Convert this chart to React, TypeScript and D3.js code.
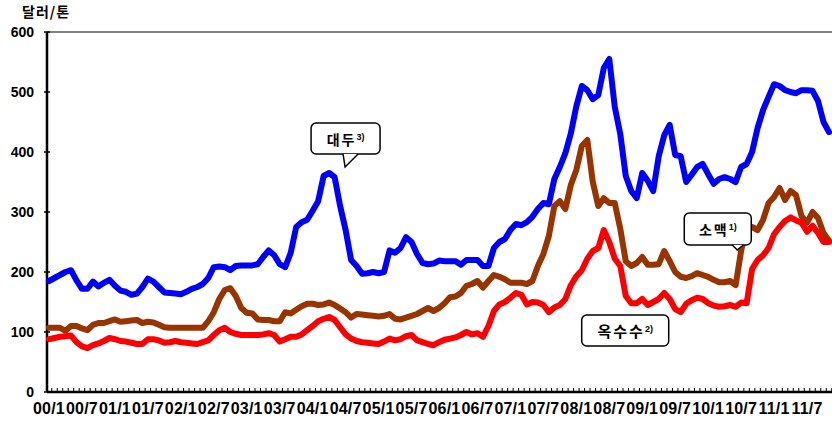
import React, { useRef, useEffect } from 'react';
import * as d3 from 'd3';

// monthly prices, 2000/1 .. 2011/11 (US$/ton)
const soybean = [
  185, 190, 195, 200, 203, 186, 172, 172, 184, 176,
  182, 187, 177, 169, 167, 162, 164, 175, 189, 184,
  175, 166, 165, 164, 163, 167, 172, 175, 180, 190,
  208, 209, 208, 203, 210, 211, 211, 211, 213, 225,
  236, 228, 213, 208, 232, 275, 283, 287, 302, 318,
  360, 365, 358, 310, 270, 220, 210, 197, 198, 200,
  198, 200, 236, 232, 240, 258, 250, 230, 215, 213,
  214, 219, 218, 218, 218, 212, 220, 220, 220, 210,
  210, 240, 250, 255, 270, 280, 278, 283, 292, 305,
  315, 313, 355, 375, 398, 431, 476, 510, 503, 488,
  495, 540, 555, 475, 430, 360, 335, 323, 365, 352,
  335, 393, 428, 445, 395, 393, 350, 362, 375, 380,
  363, 347, 355, 358, 355, 350, 375, 380, 400, 440,
  470, 492, 513, 510, 503, 500, 498, 503, 503, 502,
  485, 450, 433
];

const wheat = [
  107, 107, 107, 102, 110, 110, 106, 103, 112, 115,
  115, 118, 121, 117, 118, 119, 120, 115, 117, 116,
  112, 108, 107, 107, 107, 107, 107, 107, 107, 118,
  133, 155, 170, 173, 160, 140, 132, 131, 121, 120,
  120, 118, 118, 133, 131, 137, 143, 147, 147, 145,
  146, 149, 145, 139, 133, 124, 130, 129, 128, 127,
  126, 127, 130, 122, 121, 124, 127, 130, 135, 140,
  135, 140, 148, 158, 159, 165, 177, 180, 185, 174,
  185, 195, 192, 188, 182, 182, 182, 180, 185, 210,
  230, 260, 310, 318, 305, 345, 370, 410, 420, 350,
  310, 323, 315, 315, 272, 218, 210, 215, 225, 212,
  212, 213, 235, 218, 200, 192, 190, 193, 198, 195,
  192, 187, 183, 183, 185, 178, 235, 278, 275, 270,
  287, 315, 325, 340, 320, 335, 328, 293, 282, 300,
  290, 265, 252
];

const corn = [
  88, 90, 92, 93, 94, 83, 76, 73, 78, 81,
  85, 90, 88, 85, 84, 82, 80, 80, 88, 88,
  86, 82, 83, 85, 83, 82, 81, 80, 83, 86,
  95, 103, 107, 100, 97, 95, 95, 95, 95, 96,
  98, 95, 84, 88, 92, 92, 96, 103, 110, 118,
  122, 125, 120, 108, 96, 89, 85, 83, 82, 81,
  80, 84, 89, 86, 88, 93, 95, 86, 83, 80,
  78, 83, 87, 89, 91, 95, 100, 96, 98, 92,
  110, 135, 146, 150, 157, 165, 162, 146, 150, 149,
  145, 133, 141, 145, 155, 178, 193, 203, 222, 235,
  240, 270, 250, 222, 210, 160, 148, 148, 155, 145,
  150, 155, 165, 155, 138, 133, 147, 153, 157, 155,
  148, 144, 142, 143, 145, 142, 149, 148, 205, 220,
  228, 240, 263, 275, 285, 291, 286, 282, 267, 277,
  265, 250, 250
];

const xTickLabels = [
  '00/1', '00/7', '01/1', '01/7', '02/1', '02/7', '03/1', '03/7',
  '04/1', '04/7', '05/1', '05/7', '06/1', '06/7', '07/1', '07/7',
  '08/1', '08/7', '09/1', '09/7', '10/1', '10/7', '11/1', '11/7'
];
const yTicks = [0, 100, 200, 300, 400, 500, 600];

const seriesList = [
  { name: '소맥', values: wheat, color: '#993300' },
  { name: '옥수수', values: corn, color: '#ff0000' },
  { name: '대두', values: soybean, color: '#0000ff' }
];

const W = 832;
const H = 425;
const LATIN = '"Liberation Sans", Arial, sans-serif';
const KOREAN = '"Noto Sans CJK KR", "Noto Sans", sans-serif';

const App = () => {
  const svgRef = useRef(null);

  useEffect(() => {
    const svg = d3.select(svgRef.current);
    svg.selectAll('*').remove();

    const x = d3.scaleLinear().domain([0, soybean.length - 1]).range([49, 829]);
    const y = d3.scaleLinear().domain([0, 600]).range([392, 32]);
    const step = x(1) - x(0);
    const left = 47;

    // top gridline
    svg.append('line')
      .attr('x1', left).attr('x2', W)
      .attr('y1', y(600)).attr('y2', y(600))
      .attr('stroke', '#808080').attr('stroke-width', 2);

    // y axis
    svg.append('line')
      .attr('x1', left).attr('x2', left)
      .attr('y1', y(600)).attr('y2', y(0))
      .attr('stroke', '#000').attr('stroke-width', 2.5);

    svg.selectAll('.ytick')
      .data(yTicks)
      .enter()
      .append('line')
      .attr('x1', left - 3).attr('x2', left + 3)
      .attr('y1', d => y(d)).attr('y2', d => y(d))
      .attr('stroke', '#000').attr('stroke-width', 1.5);

    svg.selectAll('.ylabel')
      .data(yTicks)
      .enter()
      .append('text')
      .attr('x', 34)
      .attr('y', d => y(d))
      .attr('dy', '0.36em')
      .attr('text-anchor', 'end')
      .style('font-family', LATIN)
      .style('font-size', '14px')
      .style('font-weight', 'bold')
      .text(d => d);

    svg.append('text')
      .attr('x', 22).attr('y', 17)
      .style('font-family', KOREAN)
      .style('font-size', '14px')
      .style('font-weight', 'bold')
      .style('letter-spacing', '1px')
      .text('달러/톤');

    // x axis
    svg.append('line')
      .attr('x1', left).attr('x2', W)
      .attr('y1', y(0)).attr('y2', y(0))
      .attr('stroke', '#000').attr('stroke-width', 2.5);

    svg.selectAll('.xtick')
      .data(d3.range(soybean.length))
      .enter()
      .append('line')
      .attr('x1', d => x(d) + step / 2).attr('x2', d => x(d) + step / 2)
      .attr('y1', y(0) - 4).attr('y2', y(0))
      .attr('stroke', '#000').attr('stroke-width', 1);

    svg.selectAll('.xlabel')
      .data(xTickLabels)
      .enter()
      .append('text')
      .attr('x', (d, i) => x(i * 6))
      .attr('y', 414)
      .attr('text-anchor', 'middle')
      .style('font-family', LATIN)
      .style('font-size', '16px')
      .style('font-weight', 'bold')
      .style('letter-spacing', '0.2px')
      .text(d => d);

    // lines
    const line = d3.line()
      .x((d, i) => x(i))
      .y(d => y(d));

    svg.selectAll('.series')
      .data(seriesList)
      .enter()
      .append('path')
      .attr('d', d => line(d.values))
      .attr('fill', 'none')
      .attr('stroke', d => d.color)
      .attr('stroke-width', 6)
      .attr('stroke-linejoin', 'round')
      .attr('stroke-linecap', 'round');

    // callouts
    const callout = (bx, by, bw, bh, label, sup, fs, tail) => {
      const g = svg.append('g');
      g.append('rect')
        .attr('x', bx).attr('y', by)
        .attr('width', bw).attr('height', bh)
        .attr('rx', 5)
        .attr('fill', '#fff')
        .attr('stroke', '#000')
        .attr('stroke-width', 1.5);
      if (tail) {
        g.append('polygon')
          .attr('points', tail.map(p => p.join(',')).join(' '))
          .attr('fill', '#fff');
        g.append('polyline')
          .attr('points', tail.map(p => p.join(',')).join(' '))
          .attr('fill', 'none')
          .attr('stroke', '#000')
          .attr('stroke-width', 1.5);
      }
      const t = g.append('text')
        .attr('x', bx + bw / 2)
        .attr('y', by + bh / 2)
        .attr('dy', '0.4em')
        .attr('text-anchor', 'middle')
        .style('font-family', KOREAN)
        .style('font-weight', 'bold');
      t.append('tspan').style('font-size', fs + 'px').style('letter-spacing', '2px').text(label);
      t.append('tspan').attr('dy', -5).style('font-size', '9px').style('font-family', LATIN).text(sup);
    };

    // 대두 — pointing at the 2004 soybean peak
    const sx = x(53.9), sy = y(375);
    callout(sx - 34, sy - 44, 69, 31, '대두', '3)', 14,
      [[sx - 2, sy - 13], [sx, sy], [sx + 13, sy - 13]]);

    // 소맥 — pointing at the 2010 wheat jump
    const wx = x(125.3), wy = y(236.7);
    callout(wx - 53, wy - 37, 67, 32, '소맥', '1)', 14,
      [[wx - 5, wy - 5], [wx, wy], [wx + 6, wy - 5]]);

    // 옥수수
    const cx = x(104.9), cy = y(102.5);
    callout(cx - 43.5, cy - 15.5, 87, 31, '옥수수', '2)', 15, null);
  }, []);

  return (
    <svg
      ref={svgRef}
      width={W}
      height={H}
      style={{ position: 'absolute', left: 0, top: 0, background: '#fff' }}
    ></svg>
  );
};

export default App;
